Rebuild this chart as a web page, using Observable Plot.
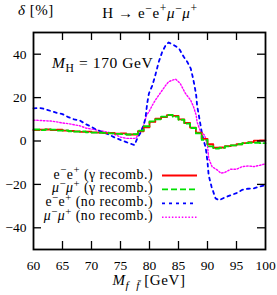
<!DOCTYPE html>
<html><head><meta charset="utf-8">
<script src="https://cdn.jsdelivr.net/npm/d3@7"></script>
<script src="https://cdn.jsdelivr.net/npm/@observablehq/plot@0.6"></script>
<style>body{margin:0;background:#fff}</style>
</head><body><div id="chart"></div>
<script>
// recombined: 1 GeV bins, lower edges 60..99
const binEdges = d3.range(60, 100);
const eeRecomb = [5.0,5.2,5.3,5.0,5.2,4.8,4.6,4.4,4.2,4.3,4.0,3.9,3.6,3.7,3.4,3.5,3.0,3.0,4.5,6.3,8.8,10.3,11.0,11.9,11.6,10.0,8.3,6.2,3.8,1.0,-1.5,-3.1,-3.0,-2.4,-2.0,-1.5,-1.0,-0.5,0.2,0.3];
const mmRecomb = [5.3,5.0,5.4,5.2,4.8,4.9,4.5,4.3,4.4,4.0,3.9,3.8,3.7,3.5,3.3,3.2,3.0,3.2,4.8,6.8,9.0,10.0,11.2,12.0,11.2,9.8,8.0,6.0,3.5,0.5,-2.5,-3.5,-3.2,-2.5,-2.0,-1.5,-1.0,-0.8,-0.8,-1.0];
// non-recombined: sampled masses
const eeNoMass = [60,61,62,63,64,65,66,67,68,69,70,71,72,73,74,75,76,77,77.4,77.9,78.5,79,79.3,79.6,79.9,80.5,81,81.6,82.2,82.8,83.3,84.2,85.1,85.9,86.5,87.1,87.5,87.8,88.05,88.2,88.5,88.8,89.1,89.7,90,90.2,90.7,91.4,92,93,94,95,96,97,98,99,100];
const eeNoRecomb = [15.0,15.3,14.7,13.8,13.0,12.4,11.0,10.0,9.4,7.8,6.5,5.0,4.0,3.0,1.6,0.5,-0.5,-1.5,-1.9,1.2,4.0,7.5,10.4,17.3,21.9,25.7,30.3,36.5,41.1,44.2,45.4,44.2,42.6,38.8,36.5,33.5,29.0,25.0,21.0,16.5,11.9,7.3,2.7,-3.3,-9.6,-15.8,-21.1,-26.5,-27.3,-26.0,-25.0,-24.0,-22.5,-22.0,-21.8,-21.0,-20.3];
const mmNoMass = [60,61,62,63,64,65,66,67,68,69,70,71,72,73,74,75,76,77,77.6,78.3,79,79.5,79.9,80.5,81,81.6,82.2,82.8,83.3,83.9,84.5,85.3,86.2,87.1,87.6,88.05,88.2,88.8,89.5,90,90.2,90.8,91.7,92.3,93,94,95,96,97,98,99,100];
const mmNoRecomb = [9.6,9.5,9.3,9.2,8.8,8.3,8.0,7.5,7.0,6.0,5.5,5.0,4.5,4.0,3.0,1.8,1.2,1.2,1.2,3.5,7.3,12.0,13.4,16.5,18.8,21.1,23.4,25.7,27.3,28.0,28.5,26.5,21.9,18.8,15.7,11.9,8.8,4.2,2.7,-1.9,-8.0,-11.9,-13.4,-14.8,-14.5,-13.0,-13.0,-11.8,-11.5,-11.8,-11.2,-10.5];
const xTicks = [60,65,70,75,80,85,90,95,100];
const yTicks = [-40,-20,0,20,40];
const xDomain = [60,100];
const yDomain = [-50,50];

function stepData(vals){
  const d = binEdges.map((x,i)=>({x, y: vals[i]}));
  d.push({x: binEdges[binEdges.length-1]+1, y: vals[vals.length-1]});
  return d;
}
function lineData(xs, vals){ return xs.map((x,i)=>({x, y: vals[i]})); }
const series = [
  {name:"mmNo", data: lineData(mmNoMass, mmNoRecomb), curve:"linear", color:"#ff00ff", width:1.4, dash:"1.5,1.8"},
  {name:"eeNo", data: lineData(eeNoMass, eeNoRecomb), curve:"linear", color:"#0000ff", width:1.8, dash:"3,4"},
  {name:"ee", data: stepData(eeRecomb), curve:"step-after", color:"#ff0000", width:1.8, dash:null},
  {name:"mm", data: stepData(mmRecomb), curve:"step-after", color:"#00e000", width:1.8, dash:"6,3"}
];
const W = 277, H = 295, mL = 33, mR = 12, mT = 32, mB = 46;
const tickPx = 8;
const tx = tickPx * (xDomain[1]-xDomain[0]) / (W-mL-mR);
const ty = tickPx * (yDomain[1]-yDomain[0]) / (H-mT-mB);
const innerX = xTicks.filter(v => v>xDomain[0] && v<xDomain[1]);
const innerY = yTicks.filter(v => v>yDomain[0] && v<yDomain[1]);

const font = "'Liberation Serif', 'DejaVu Serif', serif";
const plot = Plot.plot({
  width: W, height: H, marginLeft: mL, marginRight: mR, marginTop: mT, marginBottom: mB,
  x: {domain: xDomain}, y: {domain: yDomain},
  style: {fontFamily: font, fontSize: "13.5px", color: "black", background: "white"},
  marks: [
    ...series.map(s => Plot.line(s.data, {x:"x", y:"y", curve: s.curve, stroke: s.color, strokeWidth: s.width, strokeDasharray: s.dash})),
    Plot.ruleX(innerX, {y1: yDomain[0], y2: yDomain[0]+ty, strokeWidth: 1.3}),
    Plot.ruleX(innerX, {y1: yDomain[1], y2: yDomain[1]-ty, strokeWidth: 1.3}),
    Plot.ruleY(innerY, {x1: xDomain[0], x2: xDomain[0]+tx, strokeWidth: 1.3}),
    Plot.ruleY(innerY, {x1: xDomain[1], x2: xDomain[1]-tx, strokeWidth: 1.3}),
    Plot.frame({stroke: "black", strokeWidth: 1.8}),
    Plot.axisX({ticks: xTicks, tickSize: 0, tickPadding: 10.5, label: null, tickFormat: d3.format("d")}),
    Plot.axisY({ticks: yTicks, tickSize: 0, tickPadding: 7, label: null, tickFormat: d3.format("d")})
  ]
});
document.getElementById("chart").appendChild(plot);

const svg = d3.select(plot);
const g = svg.append("g").attr("font-family", font).attr("fill", "black");
function rich(x, y, anchor, size, parts, ls=0){
  const t = g.append("text").attr("x", x).attr("y", y).attr("text-anchor", anchor).attr("font-size", size).attr("letter-spacing", ls);
  let shift = 0;
  for (const [s, kind=""] of parts){
    const ts = t.append("tspan").text(s);
    let target = 0, fs = size;
    if (kind.includes("^")) { target = -size*0.38; fs = size*0.78; }
    if (kind.includes("_")) { target = size*0.25; fs = size*0.75; }
    if (kind.includes("i")) ts.attr("font-style", "italic");
    ts.attr("font-size", fs);
    if (target !== shift) { ts.attr("dy", target - shift); shift = target; }
  }
  return t;
}
// y label and title
rich(18, 14.5, "start", 15, [["δ","i"],[" [%]"]], 0.5);
rich(150, 17.5, "middle", 15, [["H → e"],["−","^"],["e"],["+","^"],["μ","i"],["−","^"],["μ","i"],["+","^"]], 0.6);
// x label
rich(149, 285, "middle", 15, [["M","i"],["f  f̄","i_"],[" [GeV]"]], 0.6);
// annotation
rich(52, 68.3, "start", 15.5, [["M","i"],["H","_"],[" = 170 GeV"]], 0.6);
// legend
const legendLabels = [
  [["e"],["−","^"],["e"],["+","^"],[" (γ recomb.)"]],
  [["μ","i"],["−","^"],["μ","i"],["+","^"],[" (γ recomb.)"]],
  [["e"],["−","^"],["e"],["+","^"],[" (no recomb.)"]],
  [["μ","i"],["−","^"],["μ","i"],["+","^"],[" (no recomb.)"]]
];
const legendSeries = ["ee","mm","eeNo","mmNo"].map(n => series.find(s => s.name===n));
legendLabels.forEach((parts, i) => {
  const yb = 178.5 + i*13.9;
  rich(153, yb, "end", 13.8, parts, 0.5);
  const s = legendSeries[i];
  g.append("line").attr("x1", 162).attr("x2", 197).attr("y1", yb-3).attr("y2", yb-3)
    .attr("stroke", s.color).attr("stroke-width", s.width).attr("stroke-dasharray", s.dash);
});
</script></body></html>
